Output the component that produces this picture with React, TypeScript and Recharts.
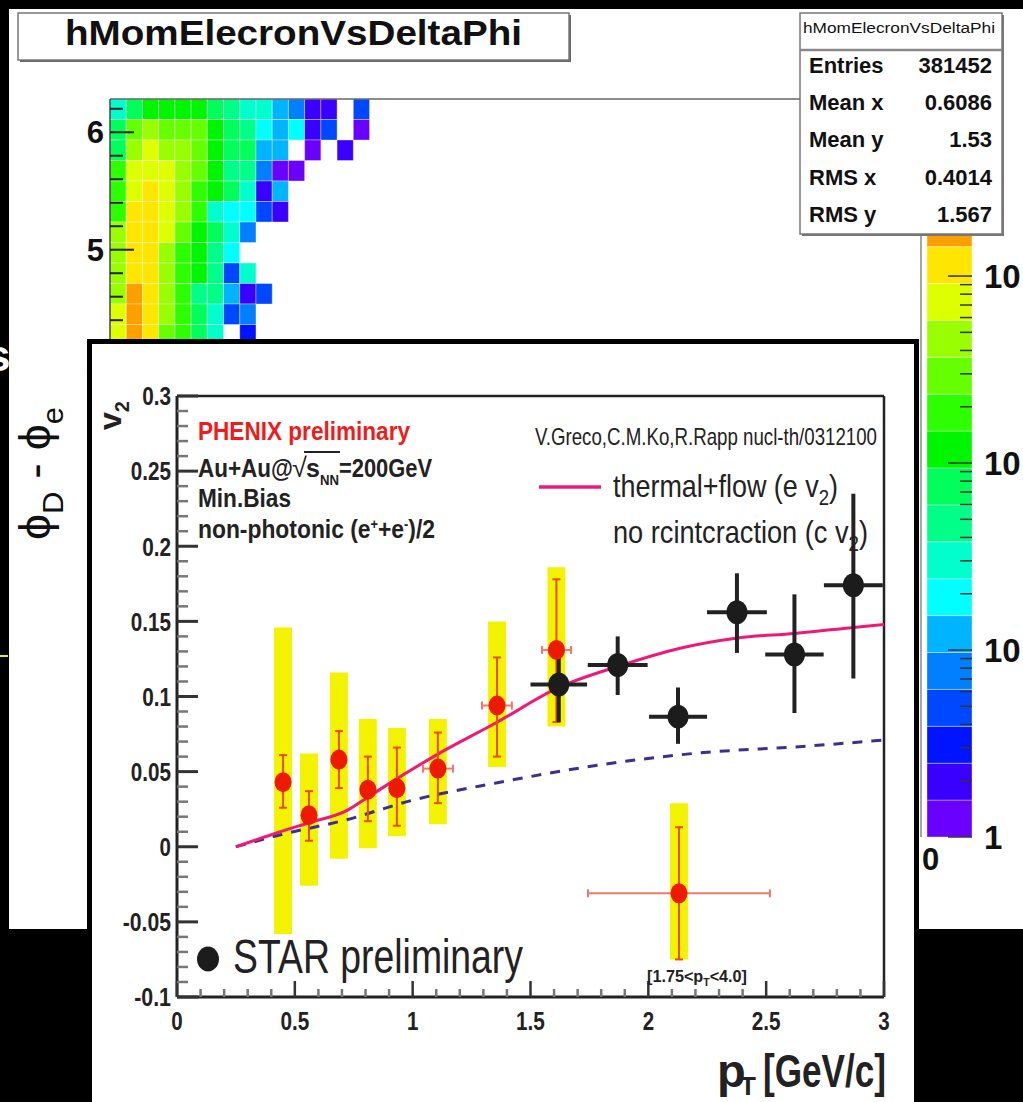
import React from "react";
import {
  ComposedChart,
  BarChart,
  Bar,
  XAxis,
  YAxis,
  Line,
  Scatter,
  ErrorBar,
  ReferenceArea,
  ReferenceLine,
} from "recharts";

const NARROW = "'Liberation Sans Narrow', 'Arial Narrow', 'Liberation Sans', Arial, sans-serif";
const SANS = "'Liberation Sans', Arial, Helvetica, sans-serif";

// ---- background 2D histogram (hMomElecronVsDeltaPhi), top rows only are visible ----
// colour level per cell, -1 = empty; row 0 is the top phi bin, column 0 is pT 0-0.1
const heatLevels = [
  [7, 9, 10, 10, 10, 10, 9, 8, 7, 7, 5, 4, 1, 1, -1, 3],
  [9, 12, 13, 12, 12, 12, 10, 9, 8, 6, 5, 6, 1, 3, -1, 0],
  [9, 13, 14, 13, 13, 12, 10, 9, 9, 5, 5, -1, 0, -1, 1],
  [11, 14, 14, 14, 13, 12, 10, 8, 8, 4, 0, 0],
  [11, 14, 15, 14, 13, 11, 10, 9, 7, 1, 5],
  [11, 15, 15, 14, 13, 11, 7, 6, 6, 3, 1],
  [13, 15, 15, 14, 12, 10, 9, 7, 4],
  [13, 15, 15, 13, 11, 10, 8, 6],
  [13, 15, 15, 13, 11, 10, 8, 3, 7],
  [13, 16, 15, 13, 11, 8, 8, 5, 1, 3],
  [14, 16, 15, 13, 11, 9, 7, 3, 4],
  [14, 16, 15, 12, 11, 9, 7, -1, 2],
];
const palette = [
  "#6a00ff", "#3a00ff", "#0014ff", "#0048ff", "#0080ff", "#00b4ff", "#00ffff",
  "#00ffcc", "#00ff88", "#00ff5a", "#00f500", "#2eff00", "#66ff00", "#99ff00",
  "#ddff00", "#ffe600", "#ffa000", "#ff6a00", "#ff3800", "#ff0000",
];
const TWO_PI = 2 * Math.PI;
const PHI_BINS = 36;
const PT_BIN = 0.1;
const phiTicks = Array.from({ length: 32 }, (_, i) => Math.round(i * 2) / 10);
const cbTicks = [1, 2, 3, 4, 5, 6, 7, 8, 9, 10, 20, 30, 40, 50, 60, 70, 80, 90, 100, 200, 300, 400, 500, 600, 700, 800, 900, 1000, 2000, 3000, 4000, 5000, 6000, 7000, 8000];

const statsRows = [
  ["Entries", "381452"],
  ["Mean x", "0.6086"],
  ["Mean y", "1.53"],
  ["RMS x", "0.4014"],
  ["RMS y", "1.567"],
];

// ---- inset: electron v2 vs pT ----
const phenixPt = [0.45, 0.56, 0.687, 0.81, 0.933, 1.107, 1.358, 1.61, 2.13];
const phenixV2 = [0.043, 0.021, 0.058, 0.038, 0.039, 0.052, 0.094, 0.131, -0.031];
const phenixStatLo = [0.026, 0.004, 0.039, 0.017, 0.014, 0.029, 0.06, 0.083, -0.075];
const phenixStatHi = [0.061, 0.037, 0.077, 0.06, 0.066, 0.076, 0.126, 0.178, 0.013];
const phenixPtLo = [0.45, 0.56, 0.687, 0.81, 0.933, 1.044, 1.294, 1.549, 1.744];
const phenixPtHi = [0.45, 0.56, 0.687, 0.81, 0.933, 1.171, 1.421, 1.672, 2.516];
const phenixSysLo = [-0.058, -0.026, -0.008, -0.001, 0.007, 0.015, 0.053, 0.08, -0.075];
const phenixSysHi = [0.146, 0.062, 0.116, 0.085, 0.079, 0.085, 0.15, 0.186, 0.029];
const SYS_HALF = 0.038;

const starPt = [1.62, 1.87, 2.126, 2.376, 2.62, 2.87];
const starV2 = [0.108, 0.121, 0.0866, 0.156, 0.128, 0.174];
const starLo = [0.083, 0.101, 0.0685, 0.129, 0.089, 0.112];
const starHi = [0.134, 0.14, 0.106, 0.182, 0.168, 0.235];
const starPtErr = [0.12, 0.127, 0.123, 0.127, 0.124, 0.125];

const thermalPt = [0.25, 0.4, 0.56, 0.72, 0.81, 0.93, 1.1, 1.36, 1.62, 1.87, 2.13, 2.38, 2.62, 2.87, 3.0];
const thermalV2 = [0.0, 0.008, 0.016, 0.024, 0.033, 0.045, 0.061, 0.083, 0.106, 0.12, 0.132, 0.139, 0.142, 0.146, 0.148];
const noReintPt = [0.25, 0.44, 0.72, 1.0, 1.36, 1.8, 2.22, 2.64, 3.0];
const noReintV2 = [0.0, 0.008, 0.018, 0.031, 0.0426, 0.0546, 0.0625, 0.0666, 0.071];

const xTicks = Array.from({ length: 31 }, (_, i) => i / 10);
const yTicks = Array.from({ length: 41 }, (_, i) => Math.round((i - 10) * 10) / 1000);

const phenix = phenixPt.map((pt, i) => ({
  pt,
  v: phenixV2[i],
  ey: [phenixV2[i] - phenixStatLo[i], phenixStatHi[i] - phenixV2[i]],
  ex: [pt - phenixPtLo[i], phenixPtHi[i] - pt],
}));
const star = starPt.map((pt, i) => ({
  pt,
  v: starV2[i],
  ey: [starV2[i] - starLo[i], starHi[i] - starV2[i]],
  ex: starPtErr[i],
}));
const thermal = thermalPt.map((pt, i) => ({ pt, v: thermalV2[i] }));
const noReint = noReintPt.map((pt, i) => ({ pt, v: noReintV2[i] }));

const fmt = (v: number) => (Math.abs(v) < 1e-9 ? "0" : String(Math.round(v * 100) / 100));
// condensed look for the ROOT axis labels
const labelWidth = (s: string) =>
  s.split("").reduce((w, ch) => w + (ch === "." ? 6 : ch === "-" ? 8 : 11.4), 0);

function V2YTick(props: any) {
  const { x, y, payload } = props;
  const v = payload.value as number;
  const major = Math.abs(v * 20 - Math.round(v * 20)) < 1e-6;
  const s = fmt(v);
  return (
    <g>
      <line x1={x} y1={y} x2={x + (major ? 21 : 11)} y2={y} stroke={major ? "#333" : "#777"} strokeWidth={major ? 3 : 2.5} />
      {major && (
        <text x={x - 6} y={y} dy="0.36em" textAnchor="end" fontFamily={NARROW} fontWeight="bold" fontSize={26} fill="#222" textLength={labelWidth(s)} lengthAdjust="spacingAndGlyphs">
          {s}
        </text>
      )}
    </g>
  );
}

function V2XTick(props: any) {
  const { x, y, payload } = props;
  const v = payload.value as number;
  const major = Math.abs(v * 2 - Math.round(v * 2)) < 1e-6;
  const s = fmt(v);
  return (
    <g>
      <line x1={x} y1={y} x2={x} y2={y - (major ? 16 : 8)} stroke={major ? "#333" : "#777"} strokeWidth={2.5} />
      {major && (
        <text x={x} y={y + 33} textAnchor="middle" fontFamily={NARROW} fontWeight="bold" fontSize={26} fill="#222" textLength={labelWidth(s)} lengthAdjust="spacingAndGlyphs">
          {s}
        </text>
      )}
    </g>
  );
}

function PhiTick(props: any) {
  const { x, y, payload } = props;
  const v = payload.value as number;
  const major = Math.abs(v - Math.round(v)) < 1e-6;
  return (
    <g>
      <line x1={x} y1={y} x2={x + (major ? 24 : 13)} y2={y} stroke="#222" strokeWidth={2} />
      {major && (
        <text x={x - 6} y={y} dy="0.36em" textAnchor="end" fontFamily={SANS} fontWeight="bold" fontSize={31} fill="#111">
          {fmt(v)}
        </text>
      )}
    </g>
  );
}

function CbTick(props: any) {
  const { x, y, payload } = props;
  const v = payload.value as number;
  const e = Math.log10(v);
  const major = Math.abs(e - Math.round(e)) < 1e-6;
  return (
    <g>
      <line x1={x} y1={y} x2={x - (major ? 24 : 12)} y2={y} stroke="#333" strokeWidth={1.5} />
      {major && (
        <text x={x + 12} y={y} dy="0.36em" fontFamily={SANS} fontWeight="bold" fontSize={33} fill="#111">
          {e === 0 ? "1" : "10"}
          {e > 0 && (
            <tspan dx={6} dy={-14} fontSize={22}>
              {Math.round(e)}
            </tspan>
          )}
        </text>
      )}
    </g>
  );
}

function Heatmap() {
  const cells = heatLevels.flatMap((row, r) => row.map((lvl, c) => ({ r, c, lvl }))).filter((d) => d.lvl >= 0);
  const dPhi = TWO_PI / PHI_BINS;
  return (
    <ComposedChart width={1023} height={1102} margin={{ top: 99, right: 102, bottom: 265, left: 50 }}>
      <XAxis type="number" dataKey="x" domain={[0, 5]} hide height={0} allowDataOverflow />
      <YAxis
        type="number"
        dataKey="y"
        domain={[0, TWO_PI]}
        ticks={phiTicks}
        interval={0}
        tick={PhiTick}
        tickLine={false}
        tickSize={0}
        tickMargin={0}
        width={60}
        axisLine={{ stroke: "#444", strokeWidth: 1.5 }}
        allowDataOverflow
      />
      {cells.map((d) => (
        <ReferenceArea
          key={`${d.r}-${d.c}`}
          x1={d.c * PT_BIN}
          x2={(d.c + 1) * PT_BIN}
          y1={TWO_PI - (d.r + 1) * dPhi}
          y2={TWO_PI - d.r * dPhi}
          fill={palette[d.lvl]}
          fillOpacity={1}
          stroke="#ffffff"
          strokeOpacity={0.35}
          strokeWidth={1}
        />
      ))}
      <ReferenceLine y={TWO_PI} stroke="#666" strokeWidth={1.5} />
      <ReferenceLine x={5} stroke="#888" strokeWidth={1.5} />
    </ComposedChart>
  );
}

function ColorBar() {
  const row = [Object.fromEntries([["name", "z"], ...palette.map((_, i) => [`b${i}`, 1])])];
  return (
    <BarChart width={1100} height={1102} data={row} barCategoryGap={0} margin={{ top: 99, right: 68, bottom: 265, left: 927 }}>
      <XAxis dataKey="name" hide height={0} />
      <YAxis yAxisId="lin" type="number" domain={[0, palette.length]} hide width={0} />
      <YAxis
        yAxisId="log"
        orientation="right"
        type="number"
        scale="log"
        domain={[1, 8850]}
        ticks={cbTicks}
        interval={0}
        tick={CbTick}
        tickLine={false}
        tickSize={0}
        tickMargin={0}
        axisLine={false}
        width={60}
        allowDataOverflow
      />
      {palette.map((col, i) => (
        <Bar
          key={i}
          dataKey={`b${i}`}
          stackId="cb"
          yAxisId="lin"
          fill={col}
          stroke="#ffffff"
          strokeOpacity={0.35}
          strokeWidth={1}
          isAnimationActive={false}
        />
      ))}
    </BarChart>
  );
}

function V2Chart() {
  return (
    <ComposedChart width={1023} height={1102} margin={{ top: 396, right: 139, bottom: 45, left: 117 }}>
      <XAxis
        type="number"
        dataKey="pt"
        domain={[0, 3]}
        ticks={xTicks}
        interval={0}
        tick={V2XTick}
        tickLine={false}
        tickSize={0}
        tickMargin={0}
        height={60}
        axisLine={{ stroke: "#222", strokeWidth: 3 }}
        allowDataOverflow
      />
      <YAxis
        type="number"
        dataKey="v"
        domain={[-0.1, 0.3]}
        ticks={yTicks}
        interval={0}
        tick={V2YTick}
        tickLine={false}
        tickSize={0}
        tickMargin={0}
        width={60}
        axisLine={{ stroke: "#222", strokeWidth: 3 }}
        allowDataOverflow
      />
      <ReferenceLine y={0.3} stroke="#222" strokeWidth={2.5} />
      <ReferenceLine x={3} stroke="#222" strokeWidth={2.5} />
      {phenixPt.map((pt, i) => (
        <ReferenceArea
          key={i}
          x1={pt - SYS_HALF}
          x2={pt + SYS_HALF}
          y1={phenixSysLo[i]}
          y2={phenixSysHi[i]}
          fill="#f3f300"
          fillOpacity={1}
          stroke="none"
        />
      ))}
      <Line data={noReint} dataKey="v" type="monotone" stroke="#3c2f8f" strokeWidth={3} strokeDasharray="10 9" dot={false} isAnimationActive={false} />
      <Line data={thermal} dataKey="v" type="monotone" stroke="#ee1a78" strokeWidth={3} dot={false} isAnimationActive={false} />
      <Scatter
        data={phenix}
        isAnimationActive={false}
        shape={(p: any) => <ellipse cx={p.cx} cy={p.cy} rx={8.5} ry={10} fill="#ee1a00" />}
      >
        <ErrorBar dataKey="ex" direction="x" width={4} stroke="#f07868" strokeWidth={2} />
        <ErrorBar dataKey="ey" direction="y" width={4} stroke="#ee4a14" strokeWidth={2} />
      </Scatter>
      <Scatter
        data={star}
        isAnimationActive={false}
        shape={(p: any) => <ellipse cx={p.cx} cy={p.cy} rx={10.5} ry={12} fill="#1c1c1c" />}
      >
        <ErrorBar dataKey="ex" direction="x" width={0} stroke="#222" strokeWidth={4} />
        <ErrorBar dataKey="ey" direction="y" width={0} stroke="#222" strokeWidth={4} />
      </Scatter>
    </ComposedChart>
  );
}

function Overlay() {
  return (
    <svg width={1023} height={1102} style={{ position: "absolute", left: 0, top: 0 }}>
      {/* fragments at the left page edge */}
      <text x={-14} y={371} fontFamily={SANS} fontWeight="bold" fontSize={44} fill="#fff">s</text>
      <line x1={0} y1={656} x2={8} y2={656} stroke="#eeee00" strokeWidth={2} />

      {/* histogram title */}
      <rect x={20} y={15} width={551} height={47} fill="#666" />
      <rect x={18} y={13} width={551} height={47} fill="#fff" stroke="#777" strokeWidth={1.5} />
      <text x={293.5} y={45} textAnchor="middle" fontFamily={SANS} fontWeight="bold" fontSize={35} textLength={457} lengthAdjust="spacingAndGlyphs" fill="#111">
        hMomElecronVsDeltaPhi
      </text>

      {/* stats box */}
      <rect x={802} y={15} width={202} height={221} fill="#777" />
      <rect x={800} y={13} width={202} height={221} fill="#fff" stroke="#777" strokeWidth={1.5} />
      <text x={899} y={33} textAnchor="middle" fontFamily={SANS} fontSize={14} textLength={192} lengthAdjust="spacingAndGlyphs" fill="#111">
        hMomElecronVsDeltaPhi
      </text>
      <line x1={800} y1={50} x2={1002} y2={50} stroke="#888" strokeWidth={2.5} />
      {statsRows.map(([k, v], i) => (
        <g key={k}>
          <text x={809} y={73 + i * 37.2} fontFamily={SANS} fontWeight="bold" fontSize={22} fill="#111">{k}</text>
          <text x={992} y={73 + i * 37.2} textAnchor="end" fontFamily={SANS} fontWeight="bold" fontSize={22} fill="#111">{v}</text>
        </g>
      ))}

      {/* histogram axis label */}
      <text transform="translate(50,540) rotate(-90)" fontFamily={SANS} fontSize={45} fill="#111" textLength={133} lengthAdjust="spacingAndGlyphs">
        ϕ<tspan dy={13} fontSize={30}>D</tspan>
        <tspan dy={-13}> - ϕ</tspan>
        <tspan dy={13} fontSize={30}>e</tspan>
      </text>
      <text x={922} y={870} fontFamily={SANS} fontWeight="bold" fontSize={31} fill="#111">0</text>
    </svg>
  );
}

function InsetText() {
  return (
    <svg width={1023} height={1102} style={{ position: "absolute", left: 0, top: 0 }}>
      <text transform="translate(121,430) rotate(-90)" fontFamily={SANS} fontWeight="bold" fontSize={32} fill="#222">
        v<tspan dy={8} fontSize={20}>2</tspan>
      </text>
      <text x={198} y={440} fontFamily={NARROW} fontWeight="bold" fontSize={25} fill="#ee1c1c" textLength={212} lengthAdjust="spacingAndGlyphs">
        PHENIX preliminary
      </text>
      <text x={198} y={477} fontFamily={NARROW} fontWeight="bold" fontSize={25} fill="#222" textLength={95} lengthAdjust="spacingAndGlyphs">
        Au+Au@
      </text>
      <text x={292} y={477} fontFamily={SANS} fontSize={27} fill="#222">√</text>
      <line x1={304} y1={452} x2={340} y2={452} stroke="#222" strokeWidth={2} />
      <text x={306} y={477} fontFamily={NARROW} fontWeight="bold" fontSize={25} fill="#222">s</text>
      <text x={320} y={485} fontFamily={NARROW} fontWeight="bold" fontSize={15} fill="#222" textLength={19} lengthAdjust="spacingAndGlyphs">NN</text>
      <text x={339} y={477} fontFamily={NARROW} fontWeight="bold" fontSize={25} fill="#222" textLength={93} lengthAdjust="spacingAndGlyphs">
        =200GeV
      </text>
      <text x={198} y={507} fontFamily={NARROW} fontWeight="bold" fontSize={25} fill="#222" textLength={93} lengthAdjust="spacingAndGlyphs">
        Min.Bias
      </text>
      <text x={198} y={538} fontFamily={NARROW} fontWeight="bold" fontSize={25} fill="#222" textLength={237} lengthAdjust="spacingAndGlyphs">
        non-photonic (e<tspan dy={-9} fontSize={14}>+</tspan>
        <tspan dy={9}>+e</tspan>
        <tspan dy={-9} fontSize={14}>-</tspan>
        <tspan dy={9}>)/2</tspan>
      </text>

      <text x={535} y={445} fontFamily={NARROW} fontSize={24} fill="#222" textLength={342} lengthAdjust="spacingAndGlyphs">
        V.Greco,C.M.Ko,R.Rapp nucl-th/0312100
      </text>
      <line x1={539} y1={487} x2={601} y2={487} stroke="#ee1a78" strokeWidth={3.5} />
      <text x={613} y={497} fontFamily={NARROW} fontSize={32} fill="#222" textLength={225} lengthAdjust="spacingAndGlyphs">
        thermal+flow (e v<tspan dy={8} fontSize={22}>2</tspan>
        <tspan dy={-8}>)</tspan>
      </text>
      <text x={613} y={543} fontFamily={NARROW} fontSize={32} fill="#222" textLength={255} lengthAdjust="spacingAndGlyphs">
        no rcintcraction (c v<tspan dy={8} fontSize={22}>2</tspan>
        <tspan dy={-8}>)</tspan>
      </text>

      <ellipse cx={208} cy={959} rx={11} ry={12.5} fill="#1c1c1c" />
      <text x={233} y={973} fontFamily={NARROW} fontSize={48} fill="#222" textLength={290} lengthAdjust="spacingAndGlyphs">
        STAR preliminary
      </text>
      <text x={647} y={982} fontFamily={NARROW} fontWeight="bold" fontSize={17} fill="#222" textLength={100} lengthAdjust="spacingAndGlyphs">
        [1.75&lt;p<tspan dy={4} fontSize={11}>T</tspan>
        <tspan dy={-4}>&lt;4.0]</tspan>
      </text>

      <text x={717} y={1087} fontFamily={NARROW} fontWeight="bold" fontSize={47} fill="#222">p</text>
      <text x={740} y={1095} fontFamily={NARROW} fontWeight="bold" fontSize={26} fill="#222">T</text>
      <text x={763} y={1087} fontFamily={NARROW} fontWeight="bold" fontSize={47} fill="#222" textLength={123} lengthAdjust="spacingAndGlyphs">
        [GeV/c]
      </text>
    </svg>
  );
}

export default function App() {
  return (
    <div style={{ position: "absolute", left: 0, top: 0, width: 1023, height: 1102, background: "#000", overflow: "hidden" }}>
      <div style={{ position: "absolute", left: 9, top: 9, width: 1014, height: 920, background: "#fff" }} />
      <div style={{ position: "absolute", left: 0, top: 0 }}>
        <Heatmap />
      </div>
      <div style={{ position: "absolute", left: 0, top: 0 }}>
        <ColorBar />
      </div>
      <Overlay />
      <div
        style={{
          position: "absolute",
          left: 87,
          top: 339,
          width: 832,
          height: 800,
          boxSizing: "border-box",
          border: "5px solid #000",
          background: "#fff",
        }}
      />
      <div style={{ position: "absolute", left: 0, top: 0 }}>
        <V2Chart />
      </div>
      <InsetText />
    </div>
  );
}
